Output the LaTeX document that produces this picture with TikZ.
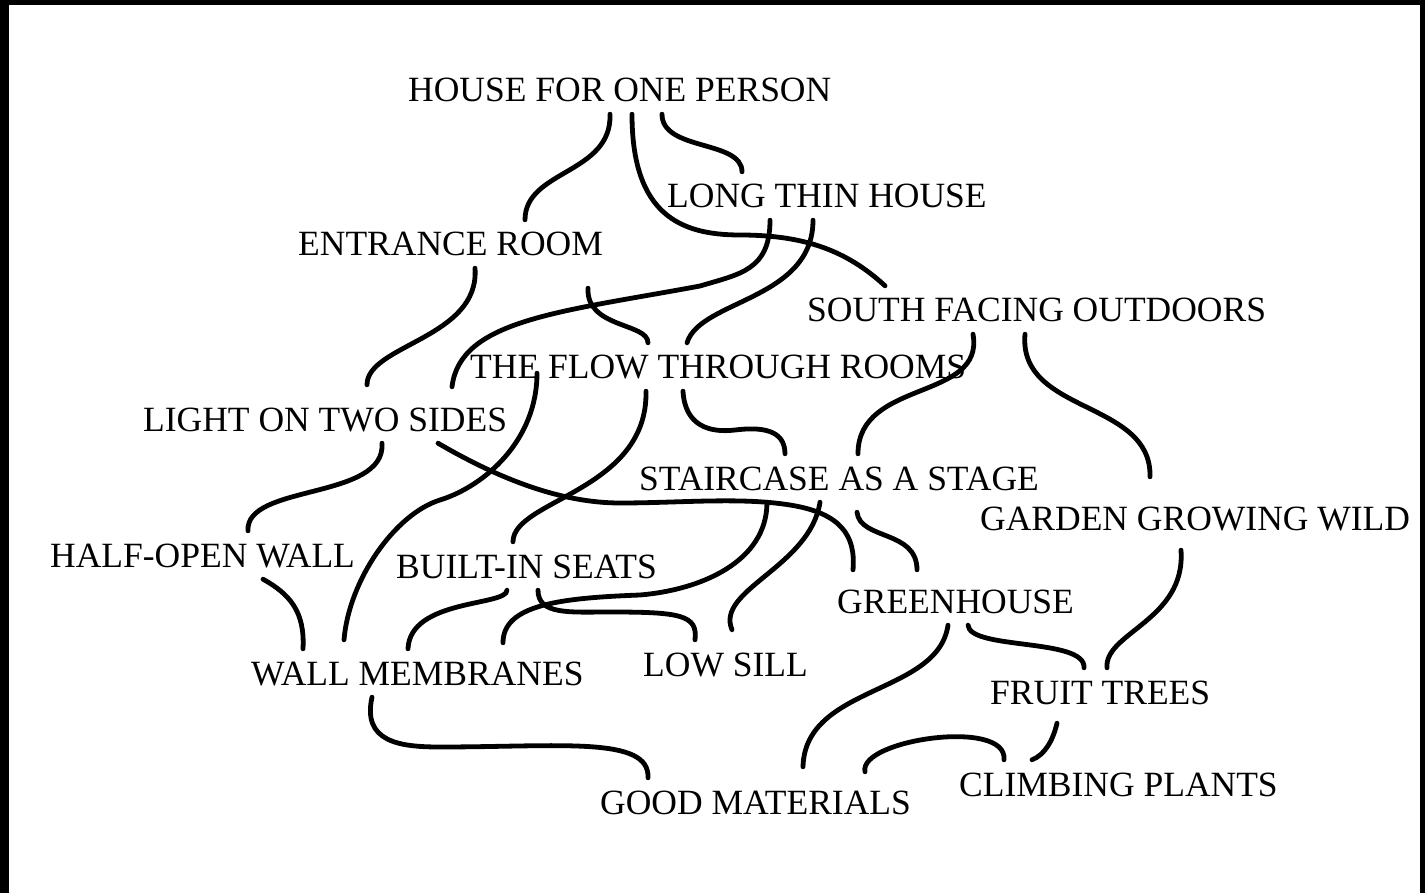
\documentclass[tikz,border=0pt]{standalone}
\usepackage{fontspec}
\setmainfont{Liberation Serif}
\usepackage{tikz}

\begin{document}
\begin{tikzpicture}[x=1pt, y=-1pt,
    pat/.style={anchor=base west, inner xsep=0pt, inner ysep=12pt,
                text height=24pt, text depth=0pt,
                font=\fontsize{35.5pt}{40pt}\selectfont},
    link/.style={line width=4.8pt, line cap=round, black}
]
\fill[black] (0,0) rectangle (1425,893);
\fill[white] (9,5) rectangle (1420,893);

\node[pat] (house)    at (408,102) {HOUSE FOR ONE PERSON};
\node[pat] (longthin) at (667,208) {LONG THIN HOUSE};
\node[pat] (entrance) at (298,256) {ENTRANCE ROOM};
\node[pat] (southout) at (807,322) {SOUTH FACING OUTDOORS};
\node[pat] (flow)     at (470,379) {THE FLOW THROUGH ROOMS};
\node[pat] (light)    at (143,431) {LIGHT ON TWO SIDES};
\node[pat] (stair)    at (639,490) {STAIRCASE AS A STAGE};
\node[pat] (garden)   at (980,530) {GARDEN GROWING WILD};
\node[pat] (halfopen) at (50,567)  {HALF-OPEN WALL};
\node[pat] (seats)    at (396,578) {BUILT-IN SEATS};
\node[pat] (green)    at (837,613) {GREENHOUSE};
\node[pat] (membr)    at (251,685) {WALL MEMBRANES};
\node[pat] (sill)     at (643,676) {LOW SILL};
\node[pat] (fruit)    at (990,704) {FRUIT TREES};
\node[pat] (climb)    at (959,796) {CLIMBING PLANTS};
\node[pat] (good)     at (600,814) {GOOD MATERIALS};

\draw[link] ([xshift=202pt]house.south west) .. controls +(2,60) and +(0,-50) .. ([xshift=227pt]entrance.north west);
\draw[link] ([xshift=224pt]house.south west) .. controls +(0,100) and +(-60,0) .. (740,235)
            .. controls +(65,0) and +(-38,-35) .. ([xshift=78pt]southout.north west);
\draw[link] ([xshift=254pt]house.south west) .. controls +(0,37) and +(0,-32) .. ([xshift=75pt]longthin.north west);

\draw[link] ([xshift=103pt]longthin.south west) .. controls +(0,50) and +(40,-12) .. (700,286)
            .. controls +(-140,26) and +(8,-67) .. ([xshift=309pt,yshift=8pt]light.north west);
\draw[link] ([xshift=146pt]longthin.south west) .. controls +(0,80) and +(13,-43) .. ([xshift=217pt]flow.north west);

\draw[link] ([xshift=177pt]entrance.south west) .. controls +(5,70) and +(0,-40) .. ([xshift=224pt,yshift=10pt]light.north west);
\draw[link] ([xshift=290pt,yshift=-20pt]entrance.south west) .. controls +(-2,40) and +(0,-20) .. ([xshift=178pt]flow.north west);

\draw[link] ([xshift=67pt,yshift=18pt]flow.south west) .. controls +(0,67) and +(45,-14) .. (440,500)
            .. controls +(-45,14) and +(5,-60) .. ([xshift=93pt,yshift=9pt]membr.north west);
\draw[link] ([xshift=176pt]flow.south west) .. controls +(2,100) and +(0,-42) .. ([xshift=117pt]seats.north west);
\draw[link] ([xshift=213pt]flow.south west) .. controls +(2,35) and +(-25,3) .. (735,430)
            .. controls +(25,-3) and +(0,-25) .. ([xshift=146pt]stair.north west);

\draw[link] ([xshift=295pt]light.south west) .. controls +(60,35) and +(-60,0) .. (620,503)
            .. controls +(60,0) and +(-50,-8) .. (790,505)
            .. controls +(50,8) and +(3,-35) .. ([xshift=16pt,yshift=7pt]green.north west);
\draw[link] ([xshift=239pt]light.south west) .. controls +(4,57) and +(-3,-47) .. ([xshift=198pt]halfopen.north west);

\draw[link] ([xshift=166pt]southout.south west) .. controls +(12,67) and +(0,-75) .. ([xshift=219pt]stair.north west);
\draw[link] ([xshift=218pt]southout.south west) .. controls +(-7,80) and +(2,-77) .. ([xshift=170pt,yshift=17pt]garden.north west);

\draw[link] ([xshift=128pt]stair.south west) .. controls +(0,60) and +(60,-5) .. (640,595)
            .. controls +(-80,3) and +(0,-38) .. ([xshift=252pt,yshift=6pt]membr.north west);
\draw[link] ([xshift=181pt]stair.south west) .. controls +(-10,65) and +(-17,-40) .. ([xshift=89pt,yshift=10pt]sill.north west);
\draw[link] ([xshift=218pt,yshift=-10pt]stair.south west) .. controls +(3,28) and +(0,-40) .. ([xshift=80pt,yshift=7pt]green.north west);

\draw[link] ([xshift=111pt]seats.south west) .. controls +(0,16) and +(2,-50) .. ([xshift=157pt]membr.north west);
\draw[link] ([xshift=142pt]seats.south west) .. controls +(0,25) and +(-40,0) .. (610,612)
            .. controls +(70,0) and +(3,-25) .. ([xshift=52pt]sill.north west);

\draw[link] ([xshift=213pt]halfopen.south west) .. controls +(27,15) and +(2,-37) .. ([xshift=52pt]membr.north west);

\draw[link] ([xshift=121pt]membr.south west) .. controls +(-10,45) and +(-40,0) .. (440,747)
            .. controls +(120,0) and +(2,-42) .. ([xshift=48pt]good.north west);

\draw[link] ([xshift=111pt]green.south west) .. controls +(-10,70) and +(2,-82) .. ([xshift=203pt,yshift=11pt]good.north west);
\draw[link] ([xshift=131pt]green.south west) .. controls +(2,25) and +(2,-30) .. ([xshift=94pt]fruit.north west);

\draw[link] ([xshift=201pt,yshift=-8pt]garden.south west) .. controls +(5,70) and +(-3,-35) .. ([xshift=117pt]fruit.north west);
\draw[link] ([xshift=67pt,yshift=-7pt]fruit.south west) .. controls +(-4,17) and +(13,-5) .. ([xshift=73pt]climb.north west);
\draw[link] ([xshift=265pt,yshift=6pt]good.north west) .. controls +(-7,-32) and +(4,-42) .. ([xshift=45pt]climb.north west);
\end{tikzpicture}
\end{document}
